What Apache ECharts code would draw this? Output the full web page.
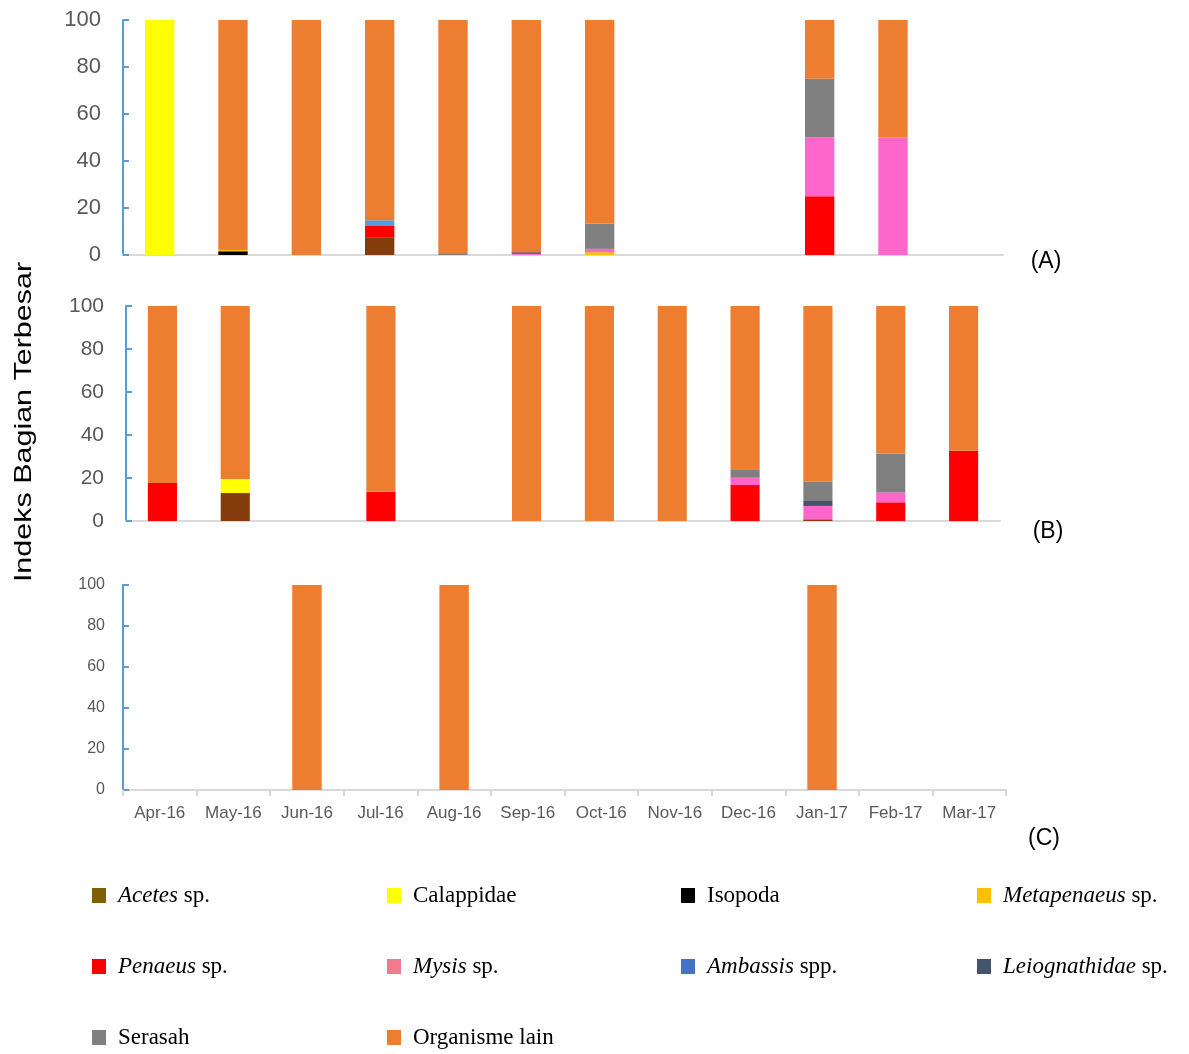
<!DOCTYPE html>
<html>
<head>
<meta charset="utf-8">
<script src="https://cdn.jsdelivr.net/npm/echarts@6/dist/echarts.min.js"></script>
<style>
  html, body { margin: 0; padding: 0; background: #fff; }
  #chart { width: 1189px; height: 1054px; }
</style>
</head>
<body>
<div id="chart"></div>
<script>
var months = ['Apr-16', 'May-16', 'Jun-16', 'Jul-16', 'Aug-16', 'Sep-16', 'Oct-16', 'Nov-16', 'Dec-16', 'Jan-17', 'Feb-17', 'Mar-17'];
var yTicks = [0, 20, 40, 60, 80, 100];

// species, from the bottom of the stack to the top
var species = ['Acetes sp.', 'Calappidae', 'Isopoda', 'Metapenaeus sp.', 'Penaeus sp.', 'Mysis sp.', 'Ambassis spp.', 'Leiognathidae sp.', 'Serasah', 'Organisme lain'];
var barColors = ['#843C0C', '#FFFF00', '#000000', '#FFC000', '#FF0000', '#FF66CC', '#5B9BD5', '#44546A', '#808080', '#ED7D31'];
var legendColors = ['#7F6000', '#FFFF00', '#000000', '#FFC000', '#FF0000', '#F07B8C', '#4472C4', '#44546A', '#808080', '#ED7D31'];

// panel (A)
var aAcetes        = [0, 0, 0, 7.6, 0, 0, 0, 0, 0, 0, 0, 0];
var aCalappidae    = [100, 0, 0, 0, 0, 0, 0, 0, 0, 0, 0, 0];
var aIsopoda       = [0, 1.6, 0, 0, 0, 0, 0, 0, 0, 0, 0, 0];
var aMetapenaeus   = [0, 0.5, 0, 0, 0, 0, 1.2, 0, 0, 0, 0, 0];
var aPenaeus       = [0, 0, 0, 5, 0, 0, 0, 0, 0, 25, 0, 0];
var aMysis         = [0, 0, 0, 0, 0, 0.5, 1.4, 0, 0, 25, 50, 0];
var aAmbassis      = [0, 0, 0, 2.2, 0, 0, 0, 0, 0, 0, 0, 0];
var aLeiognathidae = [0, 0, 0, 0, 0, 0.7, 0, 0, 0, 0, 0, 0];
var aSerasah       = [0, 0, 0, 0, 0.8, 0, 10.8, 0, 0, 25, 0, 0];
var aOrganisme     = [0, 97.9, 100, 85.2, 99.2, 98.8, 86.6, 0, 0, 25, 50, 0];

// panel (B)
var bAcetes        = [0, 13, 0, 0, 0, 0, 0, 0, 0, 0.8, 0, 0];
var bCalappidae    = [0, 6.5, 0, 0, 0, 0, 0, 0, 0, 0, 0, 0];
var bIsopoda       = [0, 0, 0, 0, 0, 0, 0, 0, 0, 0, 0, 0];
var bMetapenaeus   = [0, 0, 0, 0, 0, 0, 0, 0, 0, 0, 0, 0];
var bPenaeus       = [17.7, 0, 0, 13.6, 0, 0, 0, 0, 16.7, 0, 8.7, 32.7];
var bMysis         = [0, 0, 0, 0, 0, 0, 0, 0, 3.4, 6.2, 4.6, 0];
var bAmbassis      = [0, 0, 0, 0, 0, 0, 0, 0, 0, 0, 0, 0];
var bLeiognathidae = [0, 0, 0, 0, 0, 0, 0, 0, 0, 2.3, 0, 0];
var bSerasah       = [0, 0, 0, 0, 0, 0, 0, 0, 4, 9.1, 18.1, 0];
var bOrganisme     = [82.3, 80.5, 0, 86.4, 0, 100, 100, 100, 75.9, 81.6, 68.6, 67.3];

// panel (C)
var cOrganisme     = [0, 0, 100, 0, 100, 0, 0, 0, 0, 100, 0, 0];

var panelData = [
  [aAcetes, aCalappidae, aIsopoda, aMetapenaeus, aPenaeus, aMysis, aAmbassis, aLeiognathidae, aSerasah, aOrganisme],
  [bAcetes, bCalappidae, bIsopoda, bMetapenaeus, bPenaeus, bMysis, bAmbassis, bLeiognathidae, bSerasah, bOrganisme],
  [null, null, null, null, null, null, null, null, null, cOrganisme]
];

var italicPart = {
  'Acetes sp.': ['Acetes', ' sp.'],
  'Metapenaeus sp.': ['Metapenaeus', ' sp.'],
  'Penaeus sp.': ['Penaeus', ' sp.'],
  'Mysis sp.': ['Mysis', ' sp.'],
  'Ambassis spp.': ['Ambassis', ' spp.'],
  'Leiognathidae sp.': ['Leiognathidae', ' sp.']
};

var chart = echarts.init(document.getElementById('chart'));

var grids = [
  { left: 123, right: 186, top: 20, height: 235 },
  { left: 126, right: 189, top: 306, height: 215 },
  { left: 123, right: 183, top: 585, height: 205 }
];
var labelSizes = [22, 21, 16];
var labelMargins = [22, 22, 18];

var xAxes = [], yAxes = [];
for (var g = 0; g < 3; g++) {
  xAxes.push({
    type: 'category',
    gridIndex: g,
    data: months,
    boundaryGap: true,
    axisLine: { lineStyle: { color: '#D9D9D9', width: 2 } },
    axisTick: { show: g == 2, length: 6, lineStyle: { color: '#D9D9D9', width: 2 } },
    axisLabel: { show: g == 2, color: '#595959', fontSize: 17, fontFamily: 'Liberation Sans', margin: 15, interval: 0 }
  });
  yAxes.push({
    type: 'value',
    gridIndex: g,
    min: yTicks[0],
    max: yTicks[yTicks.length - 1],
    interval: 20,
    splitLine: { show: false },
    axisLine: { show: true, lineStyle: { color: '#5B9BD5', width: 2 } },
    axisTick: { show: true, inside: true, length: 6, lineStyle: { color: '#5B9BD5', width: 2 } },
    axisLabel: { color: '#595959', fontSize: labelSizes[g], fontFamily: 'Liberation Sans', margin: labelMargins[g] }
  });
}

var series = [];
for (var p = 0; p < 3; p++) {
  for (var s = 0; s < species.length; s++) {
    if (!panelData[p][s]) continue;
    series.push({
      name: species[s],
      type: 'bar',
      stack: 'panel' + p,
      xAxisIndex: p,
      yAxisIndex: p,
      barWidth: '40%',
      itemStyle: { color: barColors[s] },
      data: panelData[p][s]
    });
  }
}

function legendCol(left, names) {
  return {
    orient: 'vertical',
    left: left,
    top: 884,
    padding: 0,
    itemWidth: 14,
    itemHeight: 15,
    itemGap: 48,
    icon: 'rect',
    data: names.map(function (n) {
      return { name: n, itemStyle: { color: legendColors[species.indexOf(n)] } };
    }),
    formatter: function (name) {
      var parts = italicPart[name];
      if (parts) return '{i|' + parts[0] + '}{n|' + parts[1] + '}';
      return '{n|' + name + '}';
    },
    textStyle: {
      color: '#000',
      fontFamily: 'Liberation Serif',
      fontSize: 23,
      lineHeight: 22,
      padding: [0, 0, 0, 7],
      rich: {
        i: { fontStyle: 'italic', fontFamily: 'Liberation Serif', fontSize: 23, color: '#000' },
        n: { fontFamily: 'Liberation Serif', fontSize: 23, color: '#000' }
      }
    }
  };
}

var option = {
  animation: false,
  backgroundColor: '#fff',
  grid: grids,
  xAxis: xAxes,
  yAxis: yAxes,
  legend: [
    legendCol(92, ['Acetes sp.', 'Penaeus sp.', 'Serasah']),
    legendCol(387, ['Calappidae', 'Mysis sp.', 'Organisme lain']),
    legendCol(681, ['Isopoda', 'Ambassis spp.']),
    legendCol(977, ['Metapenaeus sp.', 'Leiognathidae sp.'])
  ],
  graphic: [
    {
      type: 'text', x: 24, y: 422, rotation: Math.PI / 2, scaleX: 1.27,
      style: { text: 'Indeks Bagian Terbesar', font: '24px "Liberation Sans"', fill: '#000', textAlign: 'center', textVerticalAlign: 'middle' }
    },
    { type: 'text', x: 1046, y: 262, style: { text: '(A)', font: '23px "Liberation Sans"', fill: '#000', textAlign: 'center', textVerticalAlign: 'middle' } },
    { type: 'text', x: 1048, y: 532, style: { text: '(B)', font: '23px "Liberation Sans"', fill: '#000', textAlign: 'center', textVerticalAlign: 'middle' } },
    { type: 'text', x: 1044, y: 839, style: { text: '(C)', font: '23px "Liberation Sans"', fill: '#000', textAlign: 'center', textVerticalAlign: 'middle' } }
  ],
  series: series
};

chart.setOption(option);
</script>
</body>
</html>
